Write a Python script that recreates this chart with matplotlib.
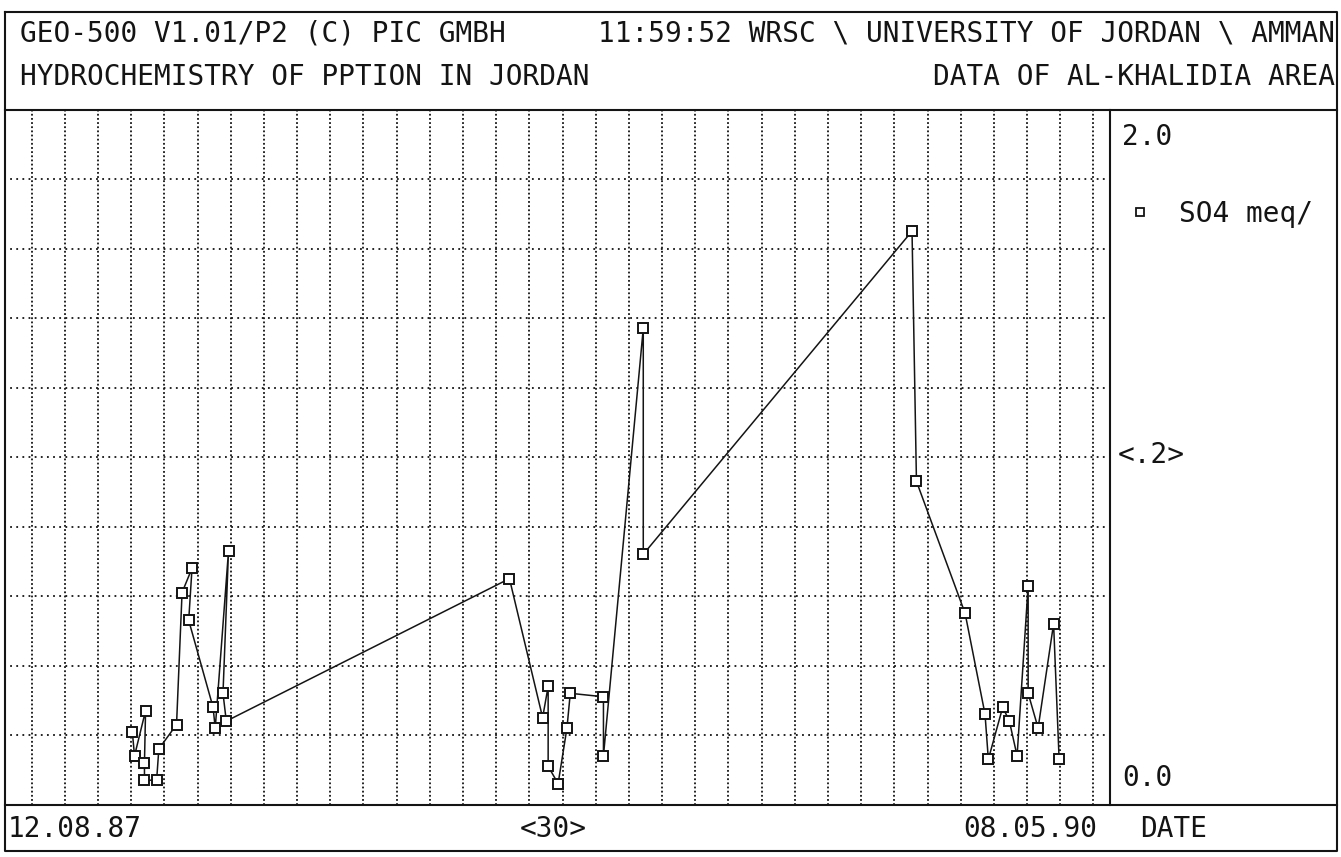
import numpy as np
import pandas as pd
import matplotlib
matplotlib.use('Agg')
import matplotlib.pyplot as plt
import matplotlib.dates as mdates
from matplotlib.lines import Line2D

# Kopfzeilen des Ausdrucks
kopf_links = ['GEO-500 V1.01/P2 (C) PIC GMBH', 'HYDROCHEMISTRY OF PPTION IN JORDAN']
kopf_rechts = ['11:59:52 WRSC \\ UNIVERSITY OF JORDAN \\ AMMAN', 'DATA OF AL-KHALIDIA AREA']

# Zeitachse: Anfang, Ende, Gitterabstand in Tagen
t_start = '1987-08-12'
t_ende = '1990-05-08'
x_labels = ['12.08.87', '<30>', '08.05.90', 'DATE']
y_labels = ['2.0', '<.2>', '0.0']
serie = 'SO4 meq/'

# Probenahmen Al-Khalidia, SO4 in meq/l (Reihenfolge wie im Datensatz)
datum = ['1987-12-06', '1987-12-08', '1987-12-18', '1987-12-17', '1987-12-17',
         '1987-12-28', '1987-12-30', '1988-01-15', '1988-01-20', '1988-01-29',
         '1988-01-26', '1988-02-17', '1988-02-19', '1988-03-02', '1988-02-26',
         '1988-02-29', '1988-11-11', '1988-12-11', '1988-12-16', '1988-12-16',
         '1988-12-25', '1989-01-02', '1989-01-05', '1989-02-04', '1989-02-04',
         '1989-03-12', '1989-03-12', '1989-11-10', '1989-11-14', '1989-12-28',
         '1990-01-15', '1990-01-18', '1990-01-31', '1990-02-06', '1990-02-13',
         '1990-02-23', '1990-02-23', '1990-03-04', '1990-03-18', '1990-03-23']
so4 = [0.21, 0.14, 0.27, 0.12, 0.07,
       0.07, 0.16, 0.23, 0.61, 0.68,
       0.53, 0.28, 0.22, 0.73, 0.32,
       0.24, 0.65, 0.25, 0.34, 0.11,
       0.06, 0.22, 0.32, 0.31, 0.14,
       1.37, 0.72, 1.65, 0.93, 0.55,
       0.26, 0.13, 0.28, 0.24, 0.14,
       0.63, 0.32, 0.22, 0.52, 0.13]

W, H = 1341, 857
ink = '#141414'
font = dict(family='DejaVu Sans Mono', fontsize=20, color=ink)

fig = plt.figure(figsize=(W / 100, H / 100), dpi=100)

# Rahmen und Texte in Pixelkoordinaten
bg = fig.add_axes([0, 0, 1, 1])
bg.set_xlim(0, W)
bg.set_ylim(H, 0)
bg.axis('off')

y_kopf, y_fuss, x_trenn = 109.5, 804.5, 1110
bg.plot([5, 1337, 1337, 5, 5], [12, 12, 851, 851, 12], color=ink, lw=1.5)
bg.plot([5, 1337], [y_kopf, y_kopf], color=ink, lw=1.5)
bg.plot([5, 1337], [y_fuss, y_fuss], color=ink, lw=1.5)
bg.plot([x_trenn, x_trenn], [y_kopf, y_fuss], color=ink, lw=1.5)

for i, y in enumerate([33, 77]):
    bg.text(20, y, kopf_links[i], ha='left', va='center', **font)
    bg.text(1335, y, kopf_rechts[i], ha='right', va='center', **font)

bg.text(8, 829, x_labels[0], ha='left', va='center', **font)
bg.text(553, 829, x_labels[1], ha='center', va='center', **font)
bg.text(1097, 829, x_labels[2], ha='right', va='center', **font)
bg.text(1140, 829, x_labels[3], ha='left', va='center', **font)

bg.text(1122, 137, y_labels[0], ha='left', va='center', **font)
bg.text(1118, 455, y_labels[1], ha='left', va='center', **font)
bg.text(1122, 778, y_labels[2], ha='left', va='center', **font)

# Diagrammfläche
ax = fig.add_axes([4 / W, 1 - y_fuss / H, (x_trenn - 4) / W, (y_fuss - y_kopf) / H],
                  facecolor='none')
t0 = pd.Timestamp(t_start)
t1 = pd.Timestamp(t_ende)
ax.set_xlim(mdates.date2num(t0), mdates.date2num(t1))
ax.set_ylim(0, 2.0)

# Gitter alle 30 Tage bzw. alle 0.2 meq/l
gitter_x = [t0 + pd.Timedelta(days=d) for d in range(25, (t1 - t0).days, 30)]
ax.set_xticks(mdates.date2num(gitter_x))
ax.set_yticks(np.arange(0.2, 1.99, 0.2))
ax.tick_params(length=0, labelbottom=False, labelleft=False)
ax.xaxis.grid(True, ls=(0, (1, 1.3)), lw=1.3, color=ink)
ax.yaxis.grid(True, ls=(0, (1, 2.4)), lw=1.3, color=ink)
for s in ax.spines.values():
    s.set_visible(False)

x = mdates.date2num(pd.to_datetime(datum).values)
ax.plot(x, so4, color=ink, lw=1.1, marker='s', ms=7, mfc='white', mec=ink, mew=1.4,
        zorder=3)

# Legende rechts
h = Line2D([], [], ls='none', marker='s', ms=5.5, mfc='white', mec=ink, mew=1.3)
fig.legend([h], [serie], loc='center left', bbox_to_anchor=(1126 / W, 1 - 214 / H),
           frameon=False, prop=dict(family='DejaVu Sans Mono', size=20),
           labelcolor=ink, handlelength=1.0, handletextpad=0.9,
           borderpad=0, borderaxespad=0)

fig.savefig('out.png', dpi=100, facecolor='white')
